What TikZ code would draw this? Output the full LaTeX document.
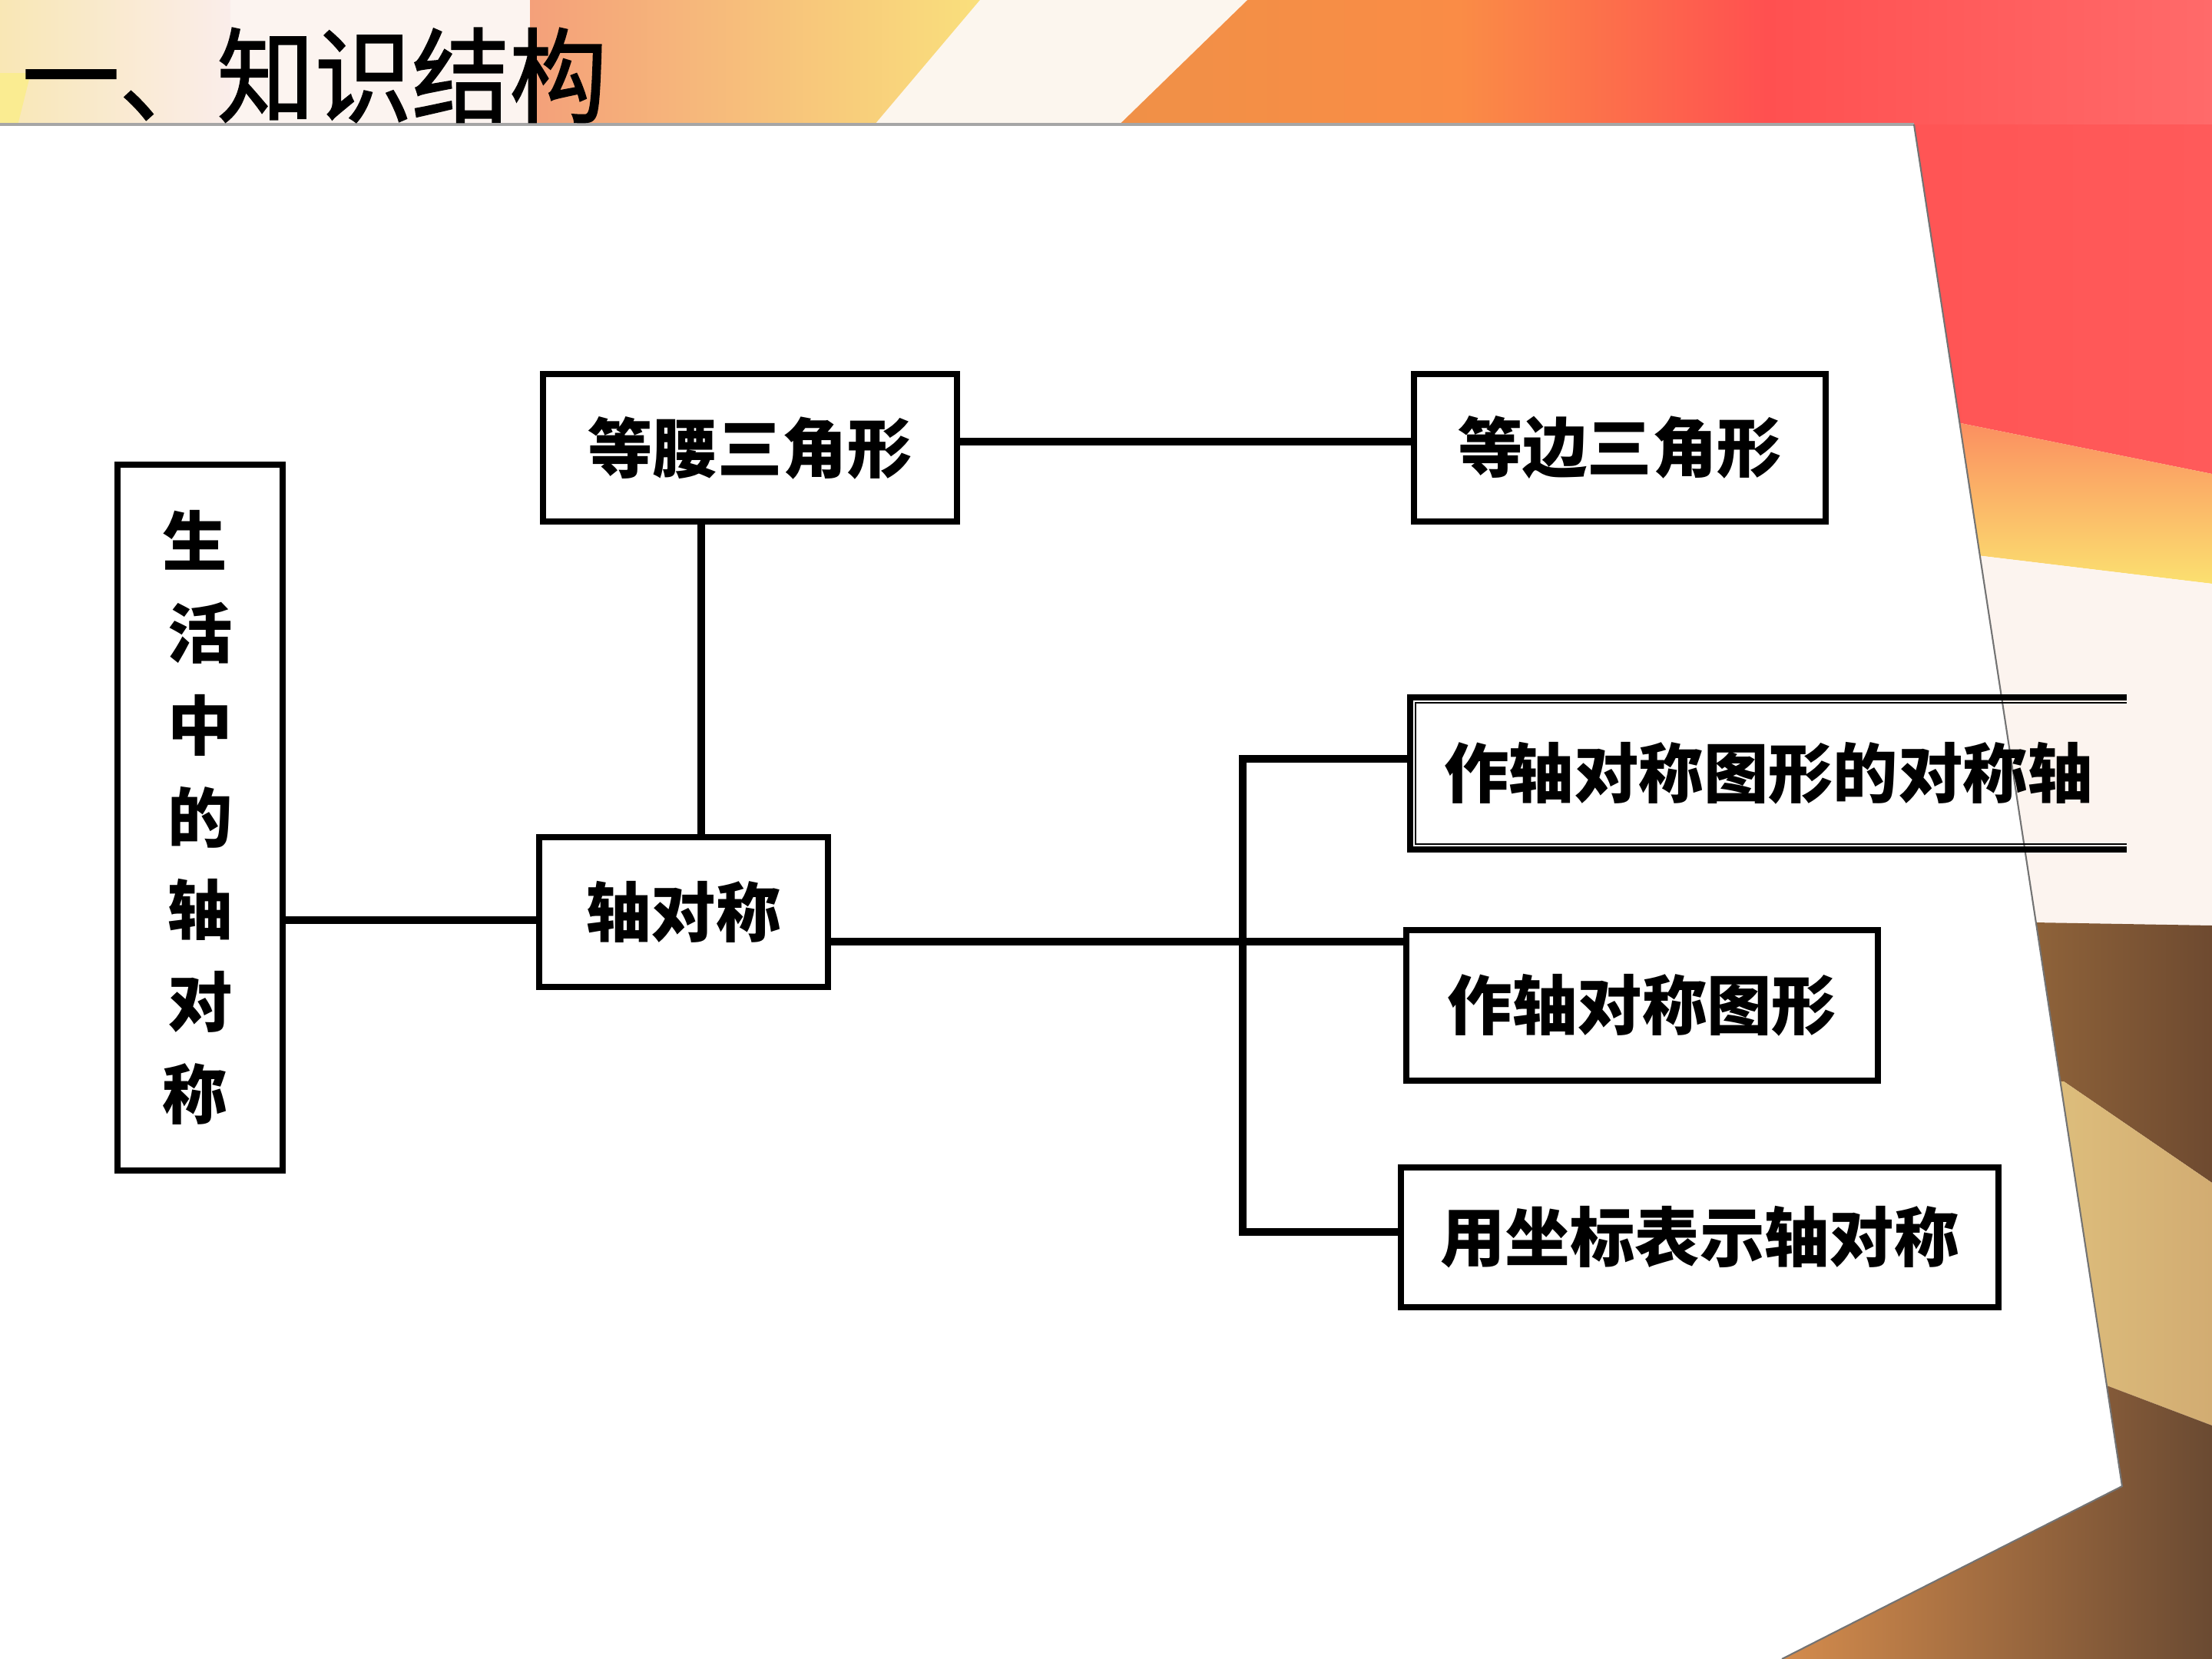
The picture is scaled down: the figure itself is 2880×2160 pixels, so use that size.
\documentclass[tikz,border=0pt]{standalone}
\usepackage{fontspec}
\newfontfamily\cjk{Noto Sans CJK SC}
\newfontfamily\cjktitle{Noto Sans CJK SC}[FakeStretch=0.95,FakeBold=1.5]
\usetikzlibrary{calc}
\definecolor{tA}{HTML}{F9E7B5}
\definecolor{tB}{HTML}{FAEDEA}
\definecolor{tW}{HTML}{FCF4F0}
\definecolor{tC}{HTML}{F4A07A}
\definecolor{tD}{HTML}{FAE27C}
\definecolor{tE}{HTML}{EC9247}
\definecolor{tF}{HTML}{FA8C46}
\definecolor{tR}{HTML}{FF5050}
\definecolor{tP}{HTML}{FF6A6A}
\definecolor{tS}{HTML}{FCF6EE}
\definecolor{rR1}{HTML}{FF5252}
\definecolor{rR2}{HTML}{FF5A5A}
\definecolor{rO}{HTML}{FB7C5C}
\definecolor{rY}{HTML}{FBE070}
\definecolor{rC}{HTML}{FCF4EF}
\definecolor{bB1}{HTML}{C08848}
\definecolor{bB2}{HTML}{6E4A30}
\definecolor{gG1}{HTML}{F2DE8E}
\definecolor{gG2}{HTML}{D2AC72}
\definecolor{dO}{HTML}{D88E4E}
\definecolor{dB}{HTML}{6A4A32}
\newcommand{\vc}[1]{#1\hspace*{0.14cm}}
\begin{document}
\begin{tikzpicture}[x=0.01cm,y=-0.01cm,
  boxsty/.style={draw, line width=2.3pt, inner sep=0pt, fill=white,
    font=\cjk\bfseries\fontsize{24}{34.1}\selectfont, align=center},
  openbox/.style={inner sep=0pt, font=\cjk\bfseries\fontsize{24}{34.1}\selectfont},
  innerline/.style={line width=0.6pt},
  link/.style={line width=2.6pt}]
\useasboundingbox (0,0) rectangle (2880,2160);
% ---------- background ----------
\fill[white] (0,0) rectangle (2880,2160);
\shade[left color=tA, right color=tB] (0,0) rectangle (300,175);
\fill[tW] (300,0) rectangle (690,175);
\shade[left color=tC, right color=tD] (690,0) rectangle (1300,175);
\shade[left color=tE, right color=tF] (1300,0) rectangle (1900,175);
\shade[left color=tF, right color=tR] (1900,0) rectangle (2300,175);
\shade[left color=tR, right color=tP] (2300,0) rectangle (2880,175);
\fill[tS] (1276,0) -- (1624,0) -- (1444,175) -- (1128,175) -- cycle;
\fill[tA!80!yellow] (0,95) -- (40,95) -- (20,175) -- (0,175) -- cycle;
% right side bands
\shade[left color=rR1, right color=rR2] (2300,162) -- (2880,162) -- (2880,617) -- (2300,500) -- cycle;
\shade[top color=rO, bottom color=rY] (2300,500) -- (2880,617) -- (2880,760) -- (2300,690) -- cycle;
\fill[rC] (2300,690) -- (2880,760) -- (2880,1205) -- (2300,1195) -- cycle;
\shade[left color=bB1, right color=bB2] (2300,1195) -- (2880,1205) -- (2880,1540) -- (2687,1408) -- (2300,1408) -- cycle;
\shade[left color=gG1, right color=gG2] (2300,1408) -- (2687,1408) -- (2880,1540) -- (2880,1856) -- (2743,1804) -- (2300,1804) -- cycle;
\shade[left color=dO, right color=dB] (2300,1804) -- (2743,1804) -- (2880,1856) -- (2880,2160) -- (2300,2160) -- cycle;
% white panel
\fill[white] (0,162) -- (2492,162) -- (2763,1935) -- (2320,2160) -- (0,2160) -- cycle;
\draw[gray!70, line width=1pt] (0,162) -- (2492,162);
\draw[black!55, line width=0.6pt] (2492,162) -- (2763,1935) -- (2320,2160);
% ---------- title ----------
\node[anchor=west, inner sep=0pt, font=\cjktitle\fontsize{38}{38}\selectfont] (title) at (28,98) {一、知识结构};
% ---------- boxes ----------
\node[boxsty, minimum width=5.39cm, minimum height=1.92cm] (dy) at (976.5,583) {等腰三角形};
\node[boxsty, minimum width=5.36cm, minimum height=1.92cm] (db) at (2109,583) {等边三角形};
\node[boxsty, minimum width=2.15cm, minimum height=9.19cm] (vb) at (260.5,1064.5) {\vc{生}\\\vc{活}\\\vc{中}\\\vc{的}\\\vc{轴}\\\vc{对}\\\vc{称}};
\node[boxsty, minimum width=3.76cm, minimum height=1.95cm] (zdc) at (890,1187.5) {轴对称};
\node[openbox, minimum width=9.31cm, minimum height=1.96cm] (b4) at (2302.5,1007) {作轴对称图形的对称轴};
\node[boxsty, minimum width=6.14cm, minimum height=1.96cm] (b5) at (2138,1309) {作轴对称图形};
\node[boxsty, minimum width=7.78cm, minimum height=1.82cm] (b6) at (2213,1611) {用坐标表示轴对称};
% inner thin lines of the double frames
\foreach \n in {dy,db,vb,zdc,b5,b6}
  \draw[innerline] ([shift={(7,7)}]\n.north west) rectangle ([shift={(-7,-7)}]\n.south east);
\draw[line width=2.3pt] (b4.north east) -- (b4.north west) -- (b4.south west) -- (b4.south east);
\draw[innerline] ([shift={(0,7)}]b4.north east) -- ([shift={(7,7)}]b4.north west) -- ([shift={(7,-7)}]b4.south west) -- ([shift={(0,-7)}]b4.south east);
% ---------- connectors ----------
\coordinate (ya) at (0,575);
\draw[link] (dy.east |- ya) -- (db.west |- ya);
\coordinate (vx) at (913,0);
\draw[link] (vx |- dy.south) -- (vx |- zdc.north);
\coordinate (yb) at (0,1198);
\draw[link] (vb.east |- yb) -- (zdc.west |- yb);
\coordinate (yc) at (0,1226);
\draw[link] (zdc.east |- yc) -- (b5.west |- yc);
\coordinate (j1) at (1618,988);
\coordinate (j2) at (1618,1604);
\draw[link] (b4.west |- j1) -- (j1) -- (j2) -- (b6.west |- j2);
\end{tikzpicture}
\end{document}
